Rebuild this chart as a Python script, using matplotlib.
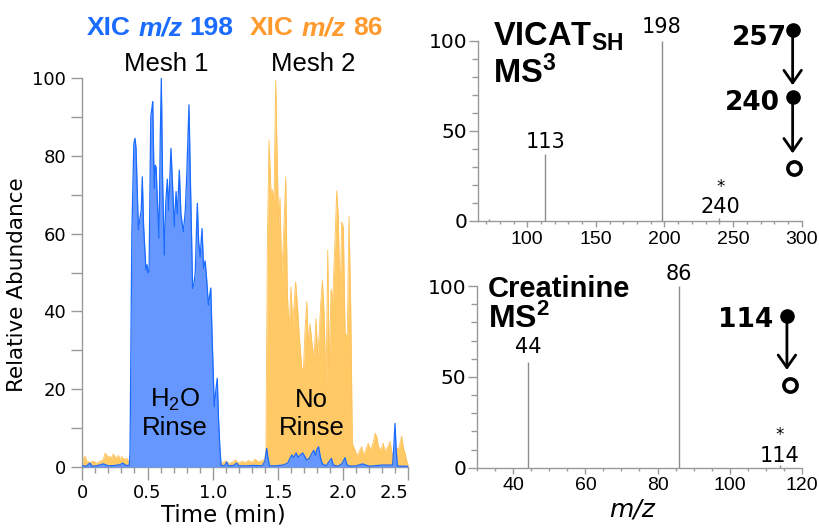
import matplotlib
matplotlib.use('Agg')
import matplotlib.pyplot as plt
from matplotlib.ticker import MultipleLocator

W, H = 820, 531
plt.rcParams['font.family'] = ['Liberation Sans', 'DejaVu Sans']
plt.rcParams['mathtext.fontset'] = 'custom'
plt.rcParams['mathtext.rm'] = 'Liberation Sans'
plt.rcParams['mathtext.bf'] = 'Liberation Sans:bold'
plt.rcParams['mathtext.it'] = 'Liberation Sans:italic'

# ---------------- data ----------------
# XIC m/z 198 (blue)
blue_t = [0.000, 0.030, 0.058, 0.075, 0.110, 0.160, 0.200, 0.250, 0.290, 0.310, 0.335, 0.360,
          0.366, 0.380, 0.395, 0.404, 0.412, 0.430, 0.442, 0.452, 0.460, 0.470, 0.488, 0.497,
          0.505, 0.512, 0.525, 0.532, 0.540, 0.546, 0.552, 0.560, 0.566, 0.576, 0.588, 0.598,
          0.606, 0.615, 0.629, 0.640, 0.652, 0.662, 0.680, 0.690, 0.706, 0.719, 0.729, 0.744,
          0.756, 0.775, 0.790, 0.802, 0.818, 0.830, 0.846, 0.856, 0.866, 0.882, 0.892, 0.904,
          0.918, 0.930, 0.942, 0.952, 0.967, 0.985, 0.996, 1.012, 1.025, 1.035, 1.045, 1.055,
          1.064,
          1.080, 1.095, 1.107, 1.120, 1.160, 1.184, 1.200, 1.260, 1.320, 1.380, 1.400, 1.414,
          1.425, 1.436, 1.480, 1.540, 1.575, 1.590, 1.606, 1.620, 1.640, 1.655, 1.675, 1.690,
          1.705, 1.720, 1.740, 1.760, 1.775, 1.788, 1.800, 1.812, 1.826, 1.840, 1.870, 1.895,
          1.910, 1.925, 1.960, 1.990, 2.015, 2.030, 2.060, 2.100, 2.150, 2.200, 2.300, 2.380,
          2.390, 2.398, 2.406, 2.416, 2.460, 2.500]
blue_v = [0.3, 0.2, 1.0, 0.2, 0.3, 0.8, 0.3, 0.4, 0.6, 1.0, 0.4, 0.4,
          4, 60, 83, 84.5, 82, 61, 64, 66, 74.6, 62, 50.6, 52,
          49.9, 50, 90, 91.8, 93.9, 82, 71.6, 77.6, 77, 68, 58.8, 85,
          99.9, 75, 54.5, 68, 74, 66, 81.9, 74, 61.8, 70.8, 65, 76.3,
          65, 60.5, 66, 76, 93.1, 72, 45.9, 47, 50, 67.8, 58, 54,
          61.3, 51, 53, 49, 41.6, 46, 33, 15.5, 20, 22.8, 12, 5,
          0.5,
          0.3, 0.5, 1.3, 0.3, 0.4, 1.0, 0.3, 0.3, 0.4, 0.3, 1.5, 4.8,
          2.0, 0.3, 0.3, 0.5, 1.0, 2.0, 3.1, 2.5, 3.6, 2.5, 3.2, 3.6,
          2.8, 1.8, 2.2, 3.5, 4.3, 3.0, 4.6, 5.2, 2.5, 0.8, 0.3, 1.5,
          2.2, 0.5, 0.2, 0.8, 2.4, 0.5, 0.2, 0.3, 0.8, 0.2, 0.5, 0.5,
          6, 11.2, 5, 0.3, 0.2, 0.2]

# XIC m/z 86 (orange)
orange_t = [0.000, 0.008, 0.021, 0.034, 0.059, 0.085, 0.110, 0.136, 0.161, 0.174, 0.187, 0.200,
            0.212, 0.225, 0.238, 0.251, 0.264, 0.277, 0.289, 0.302, 0.315, 0.327, 0.340, 0.353,
            0.366, 0.500, 0.700, 0.900, 1.060,
            1.080, 1.100, 1.125, 1.150, 1.175, 1.200, 1.225, 1.250, 1.275, 1.300, 1.325, 1.350,
            1.375, 1.400,
            1.408, 1.420, 1.432, 1.447, 1.457, 1.470, 1.483, 1.496, 1.506, 1.516, 1.529, 1.542,
            1.560, 1.572, 1.585, 1.600, 1.613, 1.636, 1.652, 1.664, 1.682, 1.695, 1.708, 1.721,
            1.733, 1.746, 1.764, 1.777, 1.792, 1.805, 1.818, 1.828, 1.841, 1.854, 1.869, 1.882,
            1.894, 1.907, 1.920, 1.938, 1.951, 1.963, 1.976, 1.989, 2.002, 2.015, 2.032, 2.045,
            2.058, 2.066, 2.071,
            2.091, 2.104, 2.117, 2.130, 2.142, 2.155, 2.168, 2.180, 2.193, 2.206, 2.219, 2.232,
            2.245, 2.257, 2.270, 2.283, 2.296, 2.308, 2.321, 2.334, 2.347, 2.360, 2.372, 2.385,
            2.398, 2.410, 2.423, 2.436, 2.449, 2.462, 2.475, 2.488, 2.500]
orange_v = [0.5, 2.2, 2.8, 1.5, 1.2, 1.5, 1.0, 1.5, 1.9, 3.5, 3.1, 2.4,
            2.8, 2.2, 3.4, 2.6, 2.3, 3.0, 1.9, 2.7, 2.2, 1.9, 2.3, 1.5,
            1.2, 1.0, 1.0, 1.0, 1.0,
            1.2, 1.6, 0.9, 1.3, 1.8, 1.0, 1.5, 1.1, 1.7, 1.2, 2.0, 1.3,
            1.6, 2.0,
            5, 60, 84, 70.4, 71.2, 68.6, 99.5, 76.3, 61.8, 69.2, 48.9, 58.4,
            74.6, 45.5, 34.4, 46.3, 36.8, 47.6, 40.4, 33.6, 25.8, 24.5, 35.2, 42.5,
            31.8, 36.8, 30.9, 28.3, 38.2, 28.3, 35.1, 42, 48, 39.5, 19.8, 55.8,
            25, 45.7, 43, 58.5, 71, 64.5, 42, 63, 61.7, 34.4, 33.6, 64.5,
            42, 20, 6,
            4.4, 3.0, 3.5, 4.5, 5.2, 3.2, 3.9, 5.0, 6.1, 4.5, 5.2, 6.5,
            8.7, 7.9, 5.5, 4.4, 5.0, 6.1, 3.8, 4.8, 5.5, 6.6, 4.0, 2.6,
            3.5, 5.0, 4.4, 6.0, 7.9, 5.0, 3.5, 1.5, 0.5]

# VICAT_SH MS3 spectrum
vicat_mz = [72, 113, 198, 240]
vicat_int = [1.3, 37, 100, 1.5]
# Creatinine MS2 spectrum
creat_mz = [44, 86, 114]
creat_int = [58, 100, 1.5]

# colours
BLUE_FILL = '#6597FF'
BLUE_LINE = '#1A6BFF'
ORANGE_FILL = '#FFC966'
ORANGE_LINE = '#FFC25A'
SPINE = '#9a9a9a'
STICK = '#8c8c8c'

fig = plt.figure(figsize=(8.2, 5.31), dpi=100)


def rect(l, t, r, b):
    return [l / W, 1 - b / H, (r - l) / W, (b - t) / H]


axL = fig.add_axes(rect(82.3, 78, 408.3, 467))
axT = fig.add_axes(rect(478.3, 40.7, 801.7, 221))
axB = fig.add_axes(rect(477.3, 286, 801.7, 467.7))

for ax in (axL, axT, axB):
    for s in ('top', 'right'):
        ax.spines[s].set_visible(False)
    for s in ('left', 'bottom'):
        ax.spines[s].set_color(SPINE)
        ax.spines[s].set_linewidth(1)
    ax.set_facecolor('none')

# ---------------- left: chromatogram ----------------
axL.fill_between(orange_t, orange_v, 0, color=ORANGE_FILL, lw=0, zorder=1)
axL.plot(orange_t, orange_v, color=ORANGE_LINE, lw=0.6, zorder=2)
axL.fill_between(blue_t, blue_v, 0, color=BLUE_FILL, lw=0, zorder=3)
axL.plot(blue_t, blue_v, color=BLUE_LINE, lw=0.9, zorder=4)

axL.set_xlim(0, 2.5)
axL.set_ylim(0, 100)
axL.set_xticks([0, 0.5, 1.0, 1.5, 2.0, 2.5])
axL.set_xticklabels(['0', '0.5', '1.0', '1.5', '2.0', '2.5'])
axL.xaxis.set_minor_locator(MultipleLocator(0.1))
axL.set_yticks([0, 20, 40, 60, 80, 100])
axL.yaxis.set_minor_locator(MultipleLocator(10))
axL.tick_params(axis='both', which='both', direction='out', color=SPINE, width=1,
                labelsize=13, labelfontfamily='DejaVu Sans', labelcolor='black')
axL.tick_params(axis='y', which='both', length=7.7, pad=4)
axL.tick_params(axis='x', which='major', length=9, pad=3)
axL.tick_params(axis='x', which='minor', length=4.5)
axL.get_xticklabels()[-1].set_horizontalalignment('right')

axL.text(0.64, 101.8, 'Mesh 1', ha='center', va='baseline', fontsize=18.5)
axL.text(1.77, 101.8, 'Mesh 2', ha='center', va='baseline', fontsize=18.5)
axL.text(0.711, 15.5, r'H$_\mathrm{2}$O', ha='center', va='baseline', fontsize=18.5, zorder=6)
axL.text(0.711, 8.2, 'Rinse', ha='center', va='baseline', fontsize=18.5, zorder=6)
axL.text(1.759, 15.5, 'No', ha='center', va='baseline', fontsize=18.5, zorder=6)
axL.text(1.759, 8.2, 'Rinse', ha='center', va='baseline', fontsize=18.5, zorder=6)

fig.text(17 / W, 1 - 285 / H, 'Relative Abundance', rotation=90, ha='center', va='center',
         fontsize=15.5, family='DejaVu Sans')
fig.text(223 / W, 1 - 521.7 / H, 'Time (min)', ha='center', va='baseline',
         fontsize=16.5, family='DejaVu Sans')

renderer = fig.canvas.get_renderer()


def rich_text(x_px, y_px, pieces, size, color):
    x = x_px
    gap = 0.278 * size * fig.dpi / 72
    for s, style in pieces:
        t = fig.text(x / W, 1 - y_px / H, s, color=color, fontsize=size, fontweight='bold',
                     fontstyle=style, ha='left', va='baseline', family='Liberation Sans')
        x += t.get_window_extent(renderer).width + gap


rich_text(87, 35, [('XIC', 'normal'), ('m/z', 'italic'), ('198', 'normal')], 19, '#1A6BFF')
rich_text(250, 35, [('XIC', 'normal'), ('m/z', 'italic'), ('86', 'normal')], 19, '#FF9A2E')

# ---------------- right: spectra ----------------
for ax, mz, inten in ((axT, vicat_mz, vicat_int), (axB, creat_mz, creat_int)):
    ax.vlines(mz, 0, inten, color=STICK, lw=1)
    ax.set_ylim(0, 100)
    ax.set_yticks([0, 50, 100])
    ax.yaxis.set_minor_locator(MultipleLocator(10))
    ax.tick_params(axis='both', which='both', direction='out', color=SPINE, width=1,
                   labelcolor='black')
    ax.tick_params(axis='y', which='major', length=6.5, pad=1.5, labelsize=14.5,
                   labelfontfamily='DejaVu Sans')
    ax.tick_params(axis='y', which='minor', length=4.3)
    ax.tick_params(axis='x', which='major', length=4, pad=3, labelsize=14,
                   labelfontfamily='Liberation Sans')
    ax.tick_params(axis='x', which='minor', length=2.5)

axT.set_xlim(64.3, 300)
axT.set_xticks([100, 150, 200, 250, 300])
axT.xaxis.set_minor_locator(MultipleLocator(10))
axB.set_xlim(30, 120)
axB.set_xticks([40, 60, 80, 100, 120])
axB.xaxis.set_minor_locator(MultipleLocator(5))

PK = dict(ha='center', va='baseline', fontsize=15, family='DejaVu Sans')
STAR = dict(ha='center', va='baseline', fontsize=12, family='DejaVu Sans')
axT.text(113, 40.3, '113', **PK)
axT.text(198, 104.0, '198', **PK)
axT.text(240.4, 4.3, '240', **PK)
axT.text(240.8, 16.0, '*', **STAR)
axB.text(44, 63.0, '44', **PK)
axB.text(86, 103.3, '86', **PK)
axB.text(113.8, 3.3, '114', **PK)
axB.text(114.0, 15.2, '*', **STAR)

BIG = dict(ha='left', va='baseline', fontweight='bold')
axT.text(75.2, 97.5, r'VICAT$_\mathbf{SH}$', fontsize=23.5, **BIG)
axT.text(75.2, 76.6, r'MS$^\mathbf{3}$', fontsize=23.5, **BIG)
axB.text(33.0, 94.1, 'Creatinine', fontsize=21, **BIG)
axB.text(33.0, 76.7, r'MS$^\mathbf{2}$', fontsize=23, **BIG)

# fragmentation scheme
NUM = dict(ha='right', va='baseline', fontsize=19, fontweight='bold', family='DejaVu Sans')
ARR = dict(arrowstyle='->,head_length=0.6,head_width=0.42', lw=2, color='black',
           mutation_scale=15, shrinkA=0, shrinkB=0)

axT.text(289.1, 97.5, '257', **NUM)
axT.text(284.2, 61.5, '240', **NUM)
axT.annotate('', xy=(293.4, 75.3), xytext=(293.4, 105.8), arrowprops=ARR, annotation_clip=False)
axT.annotate('', xy=(293.4, 37.5), xytext=(293.4, 68.5), arrowprops=ARR, annotation_clip=False)
axT.plot([293.4, 293.4], [105.8, 68.5], 'o', color='black', ms=9.5, clip_on=False, zorder=5)
axT.plot([294.4], [29.2], 'o', mfc='white', mec='black', mew=2.6, ms=9.5, clip_on=False, zorder=5)

axB.text(112.1, 77.6, '114', **NUM)
axB.annotate('', xy=(115.9, 53.8), xytext=(115.9, 83.5), arrowprops=ARR, annotation_clip=False)
axB.plot([115.9], [83.5], 'o', color='black', ms=9.5, clip_on=False, zorder=5)
axB.plot([116.8], [45.5], 'o', mfc='white', mec='black', mew=2.6, ms=9.5, clip_on=False, zorder=5)

fig.text(632 / W, 1 - 516.7 / H, 'm/z', ha='center', va='baseline', fontsize=18,
         fontstyle='italic', family='DejaVu Sans')

fig.savefig('out.png', dpi=100)
